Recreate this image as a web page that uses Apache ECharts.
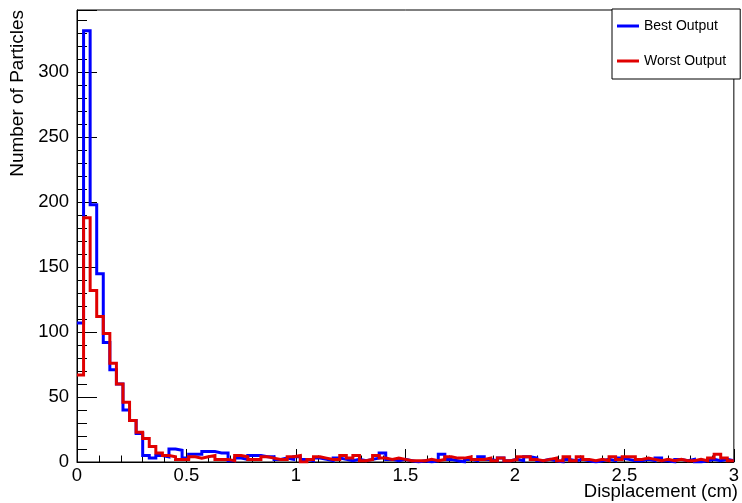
<!DOCTYPE html>
<html>
<head>
<meta charset="utf-8">
<script src="https://cdn.jsdelivr.net/npm/echarts@6/dist/echarts.min.js"></script>
<style>
  html, body { margin: 0; padding: 0; background: #fff; }
</style>
</head>
<body>
<div id="hist" style="width: 742px;height: 503px;"></div>
<script>
// histogram: 100 bins of 0.03 cm from 0 to 3
const binWidth = 0.03
const nBins = 100

const best_output = [
  107, 332, 198, 145, 92, 71, 60, 40, 32, 22,
  5, 3, 5, 4, 10, 9, 3, 6, 6, 8,
  8, 7, 7, 1, 3, 2, 5, 5, 4, 4,
  2, 3, 2, 4, 2, 1, 3, 2, 1, 3,
  2, 1, 2, 1, 2, 3, 7, 2, 1, 2,
  1, 0, 1, 0, 1, 6, 2, 1, 0, 2,
  1, 4, 2, 1, 3, 1, 2, 1, 4, 3,
  1, 2, 1, 0, 2, 1, 2, 1, 0, 1,
  2, 1, 3, 2, 1, 1, 2, 1, 3, 1,
  0, 2, 1, 2, 0, 1, 2, 1, 2, 1
]

const worst_output = [
  67, 188, 132, 112, 99, 76, 60, 46, 32, 23,
  18, 12, 7, 5, 4, 2, 2, 4, 3, 4,
  5, 2, 2, 1, 5, 4, 2, 2, 4, 3,
  2, 2, 4, 5, 0, 2, 4, 3, 2, 2,
  5, 3, 5, 1, 2, 5, 3, 2, 3, 2,
  1, 1, 1, 2, 1, 2, 4, 3, 3, 4,
  2, 2, 3, 1, 3, 1, 2, 4, 4, 2,
  1, 2, 3, 1, 4, 1, 4, 2, 1, 2,
  1, 4, 2, 4, 4, 2, 3, 2, 1, 2,
  1, 2, 1, 1, 2, 1, 3, 6, 3, 1
]

const xTicks = [0, 0.5, 1, 1.5, 2, 2.5, 3]
const yTicks = [0, 50, 100, 150, 200, 250, 300]

// step line through bin edges, last value held to the right edge
function toSteps(vals) {
    const pts = []
    for (let i = 0; i <= nBins; i++) {
        pts.push([+(i * binWidth).toFixed(4), vals[Math.min(i, nBins - 1)]])
    }
    return pts
}

const font = 'Liberation Sans, Arial, Helvetica, sans-serif'

const option = {
    animation: false,
    backgroundColor: '#fff',
    grid: {
        left: 77, right: 2, top: 10, bottom: 41,
        show: true, borderColor: '#000', borderWidth: 1
    },
    legend: {
        orient: 'vertical',
        left: 612, top: 9,
        padding: [9, 14, 10, 5],
        itemGap: 19,
        itemWidth: 22, itemHeight: 3,
        icon: 'rect',
        backgroundColor: '#fff',
        borderColor: '#000', borderWidth: 1,
        textStyle: { color: '#000', fontSize: 14, fontFamily: font, lineHeight: 16 },
        data: ['Best Output', 'Worst Output']
    },
    xAxis: {
        type: 'value',
        min: xTicks[0], max: xTicks[xTicks.length - 1], interval: 0.5,
        axisLine: { lineStyle: { color: '#000', width: 1 } },
        axisTick: { inside: true, length: 13, lineStyle: { color: '#000' } },
        minorTick: { show: true, splitNumber: 5, length: 6.5, lineStyle: { color: '#000' } },
        splitLine: { show: false },
        axisLabel: { color: '#000', fontSize: 18.5, fontFamily: font, margin: 4 }
    },
    yAxis: {
        type: 'value',
        min: yTicks[0], max: 348, interval: 50,
        axisLine: { lineStyle: { color: '#000', width: 1 } },
        axisTick: { inside: true, length: 20, lineStyle: { color: '#000' } },
        minorTick: { show: true, splitNumber: 5, length: 10, lineStyle: { color: '#000' } },
        splitLine: { show: false },
        axisLabel: { color: '#000', fontSize: 18.5, fontFamily: font, margin: 8, showMaxLabel: false }
    },
    graphic: [
        {
            type: 'text', x: 738, y: 482,
            style: { text: 'Displacement (cm)', fill: '#000', font: '18.5px ' + font,
                     textAlign: 'right', align: 'right', textVerticalAlign: 'top', verticalAlign: 'top' }
        },
        {
            type: 'text', x: 18, y: 10, rotation: Math.PI / 2,
            style: { text: 'Number of Particles', fill: '#000', font: '19px ' + font,
                     textAlign: 'right', align: 'right', textVerticalAlign: 'middle', verticalAlign: 'middle' }
        }
    ],
    series: [
        {
            name: 'Best Output',
            type: 'line',
            step: 'end',
            showSymbol: false,
            color: '#0000ff',
            lineStyle: { color: '#0000ff', width: 3, join: 'miter' },
            data: toSteps(best_output)
        },
        {
            name: 'Worst Output',
            type: 'line',
            step: 'end',
            showSymbol: false,
            color: '#e00000',
            lineStyle: { color: '#e00000', width: 3, join: 'miter' },
            data: toSteps(worst_output)
        }
    ]
}

var chartDom = document.getElementById('hist');
var myChart = echarts.init(chartDom);
option && myChart.setOption(option);
</script>
</body>
</html>
